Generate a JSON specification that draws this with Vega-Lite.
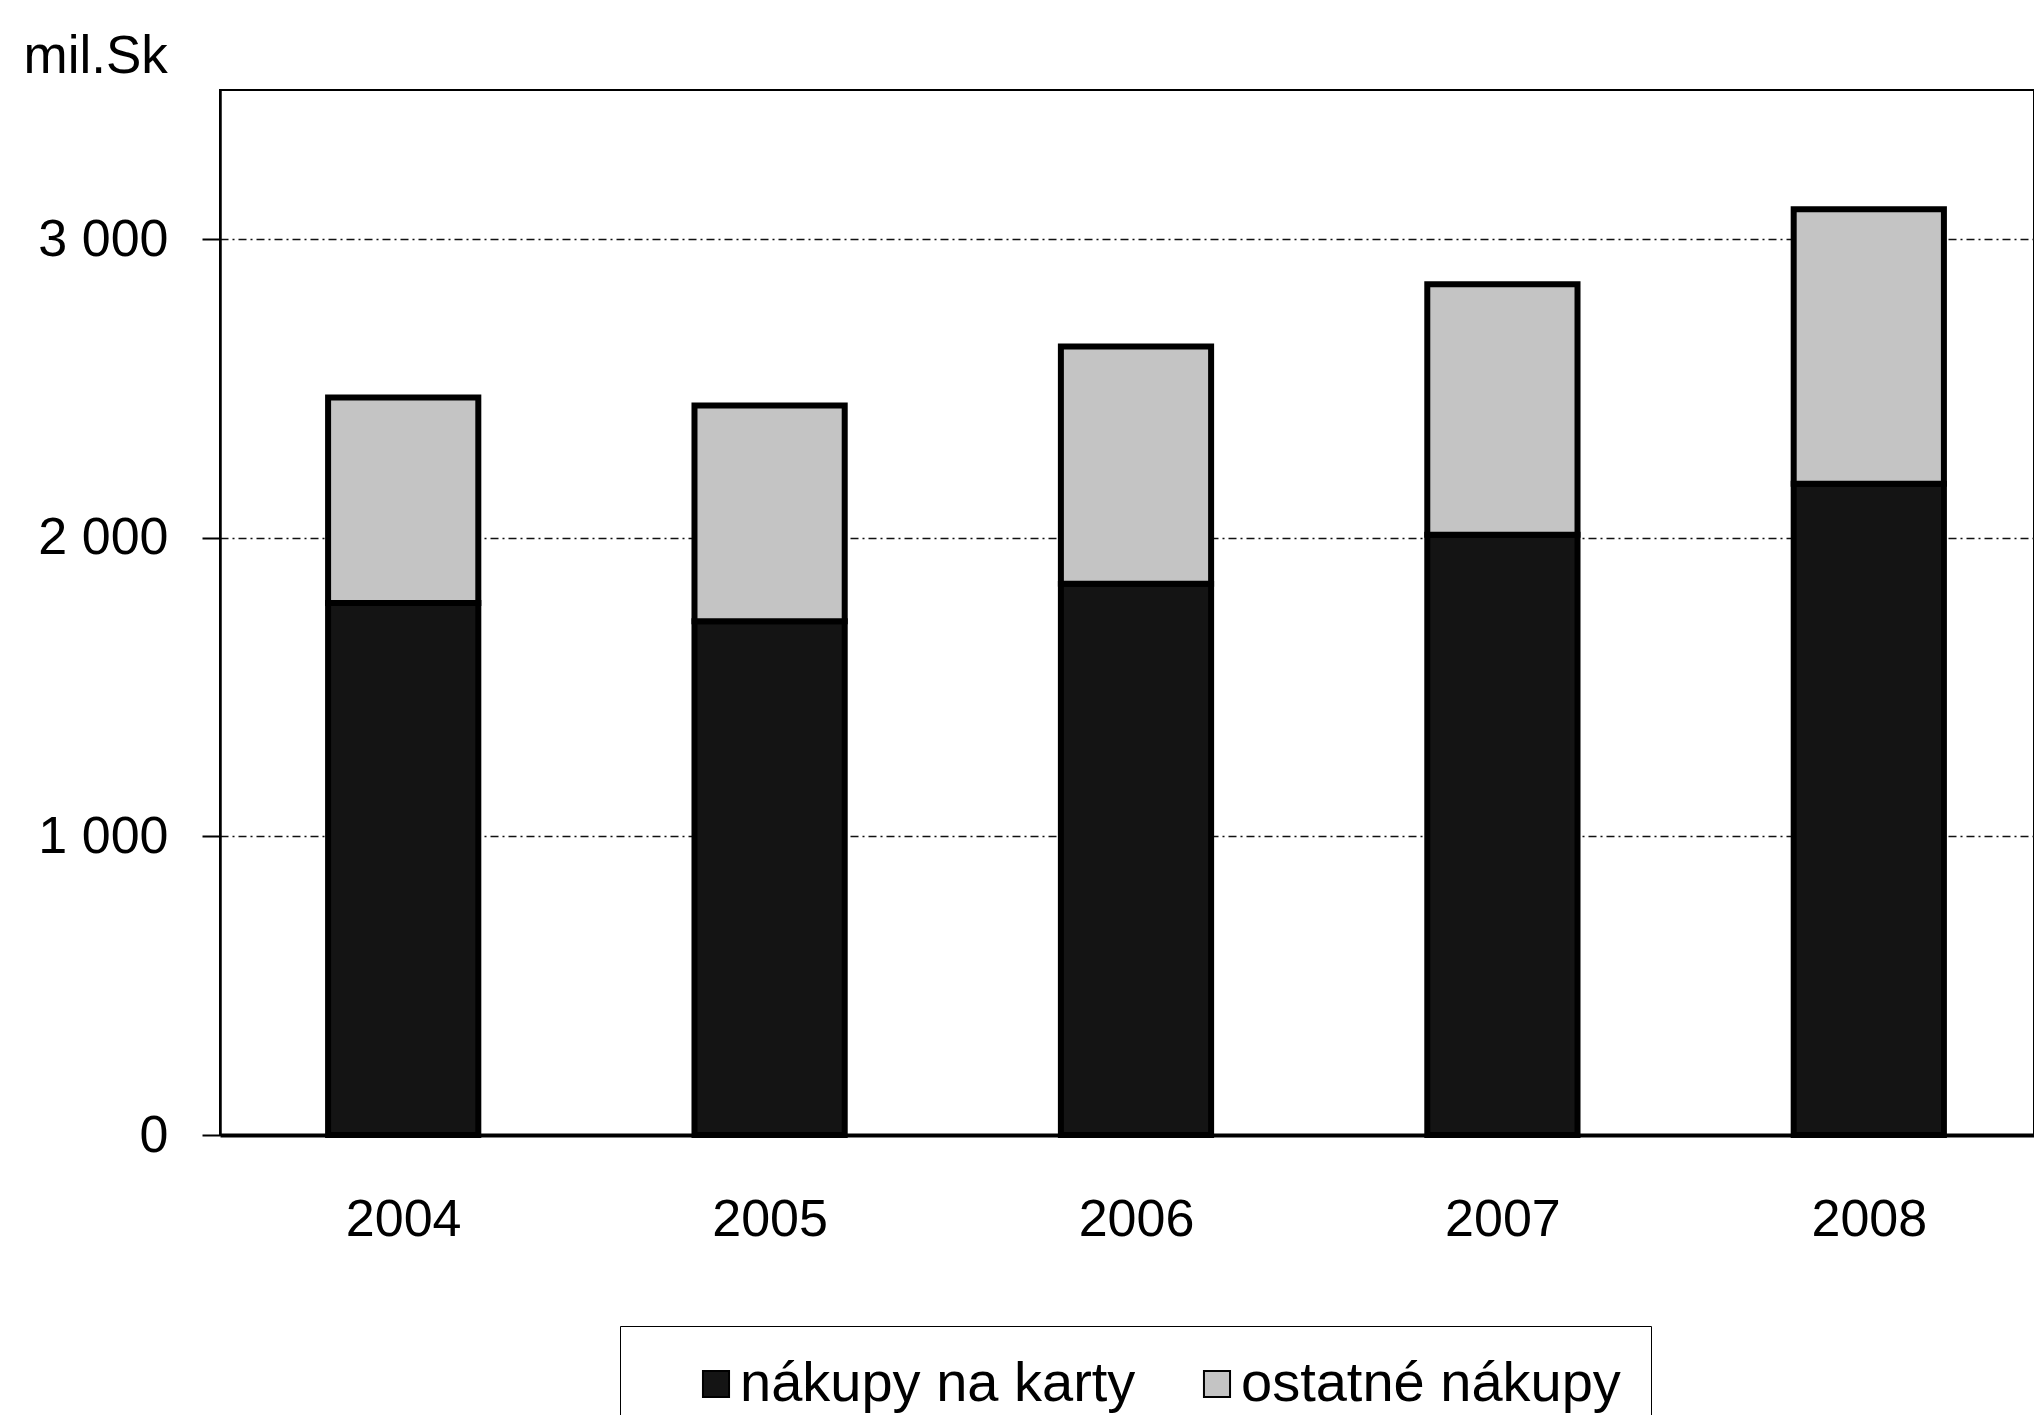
{
  "$schema": "https://vega.github.io/schema/vega-lite/v6.json",
  "width": 1814,
  "height": 1045,
  "autosize": {"type": "none"},
  "padding": {"left": 220, "top": 90, "right": 0, "bottom": 280},
  "background": "white",
  "config": {
    "font": "Liberation Sans",
    "view": {"stroke": "black", "strokeWidth": 2}
  },
  "data": {
    "values": [
      {"year": "2004", "series": "nákupy na karty", "value": 1782},
      {"year": "2004", "series": "ostatné nákupy", "value": 688},
      {"year": "2005", "series": "nákupy na karty", "value": 1721},
      {"year": "2005", "series": "ostatné nákupy", "value": 722},
      {"year": "2006", "series": "nákupy na karty", "value": 1846},
      {"year": "2006", "series": "ostatné nákupy", "value": 795},
      {"year": "2007", "series": "nákupy na karty", "value": 2010},
      {"year": "2007", "series": "ostatné nákupy", "value": 839},
      {"year": "2008", "series": "nákupy na karty", "value": 2181},
      {"year": "2008", "series": "ostatné nákupy", "value": 920}
    ]
  },
  "mark": {"type": "bar", "stroke": "black", "strokeWidth": 6},
  "encoding": {
    "x": {
      "field": "year",
      "type": "ordinal",
      "scale": {"range": [0, 1832], "paddingInner": 0.59, "paddingOuter": 0.295},
      "axis": {
        "title": null,
        "labelAngle": 0,
        "labelFontSize": 52,
        "labelColor": "black",
        "labelPadding": 76,
        "tickBand": "extent",
        "tickSize": -17,
        "tickColor": "black",
        "tickWidth": 2,
        "domainColor": "black",
        "domainWidth": 4,
        "grid": false
      }
    },
    "y": {
      "field": "value",
      "type": "quantitative",
      "stack": "zero",
      "scale": {"domain": [0, 3500], "nice": false},
      "axis": {
        "title": "mil.Sk",
        "titleAngle": 0,
        "titleAlign": "left",
        "titleBaseline": "alphabetic",
        "titleX": -197,
        "titleY": -18,
        "titleFontSize": 53,
        "titleFontWeight": "normal",
        "titleColor": "black",
        "values": [0, 1000, 2000, 3000],
        "labelExpr": "replace(format(datum.value, ','), ',', ' ')",
        "labelFontSize": 52,
        "labelColor": "black",
        "labelPadding": 34,
        "tickSize": 18,
        "tickColor": "black",
        "tickWidth": 2,
        "domainColor": "black",
        "domainWidth": 2.5,
        "grid": true,
        "gridColor": "#111111",
        "gridDash": [8, 4, 2, 4],
        "gridWidth": 1.5
      }
    },
    "order": {"field": "series", "sort": "ascending"},
    "color": {
      "field": "series",
      "type": "nominal",
      "scale": {"domain": ["nákupy na karty", "ostatné nákupy"], "range": ["#141414", "#c4c4c4"]},
      "legend": {
        "orient": "none",
        "legendX": 400,
        "legendY": 1236,
        "direction": "horizontal",
        "title": " ",
        "titleOrient": "left",
        "titleFontSize": 2,
        "titlePadding": 38,
        "labelFontSize": 56,
        "labelColor": "black",
        "labelLimit": 0,
        "labelOffset": -4,
        "symbolType": "square",
        "symbolSize": 680,
        "symbolStrokeColor": "black",
        "symbolStrokeWidth": 2,
        "symbolOpacity": 1,
        "strokeColor": "black",
        "padding": 30,
        "columnPadding": 53
      }
    }
  }
}
